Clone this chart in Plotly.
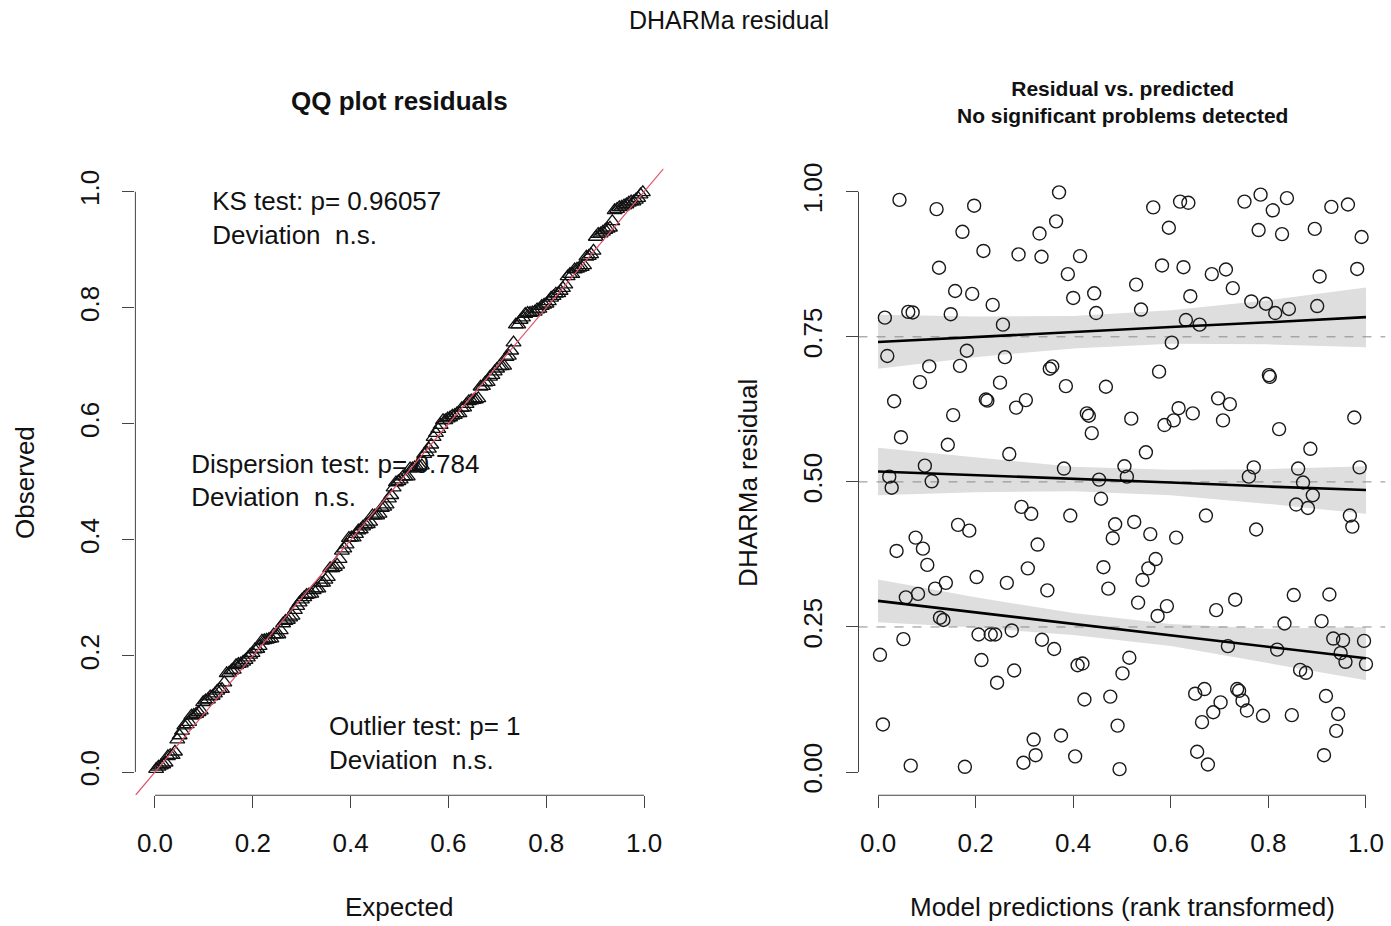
import plotly.graph_objects as go

# Scaled residuals against rank-transformed model predictions
pred_rank = [
    0.044, 0.120, 0.197, 0.173, 0.331, 0.216, 0.288, 0.335, 0.125, 0.158,
    0.193, 0.235, 0.014, 0.062, 0.071, 0.149, 0.256, 0.019, 0.182, 0.260,
    0.105, 0.168, 0.086, 0.250, 0.352, 0.357, 0.371, 0.365, 0.414, 0.389,
    0.564, 0.619, 0.636, 0.596, 0.582, 0.626, 0.529, 0.400, 0.443, 0.640,
    0.447, 0.539, 0.631, 0.659, 0.602, 0.576, 0.385, 0.467, 0.751, 0.784,
    0.809, 0.838, 0.929, 0.963, 0.780, 0.828, 0.895, 0.991, 0.684, 0.713,
    0.727, 0.905, 0.982, 0.765, 0.795, 0.814, 0.842, 0.900, 0.801, 0.803,
    0.033, 0.221, 0.224, 0.283, 0.303, 0.154, 0.047, 0.143, 0.269, 0.096,
    0.023, 0.028, 0.110, 0.294, 0.314, 0.164, 0.187, 0.077, 0.092, 0.038,
    0.327, 0.101, 0.307, 0.202, 0.139, 0.117, 0.264, 0.428, 0.432, 0.438,
    0.519, 0.587, 0.606, 0.616, 0.645, 0.549, 0.381, 0.505, 0.510, 0.453,
    0.457, 0.394, 0.486, 0.525, 0.481, 0.558, 0.611, 0.672, 0.569, 0.554,
    0.542, 0.462, 0.697, 0.721, 0.707, 0.822, 0.976, 0.886, 0.770, 0.760,
    0.861, 0.987, 0.871, 0.891, 0.857, 0.881, 0.967, 0.972, 0.775,
    0.082, 0.057, 0.347, 0.127, 0.134, 0.052, 0.004, 0.206, 0.231, 0.240,
    0.274, 0.336, 0.212, 0.279, 0.244, 0.010, 0.319, 0.323, 0.298, 0.067,
    0.178, 0.472, 0.533, 0.592, 0.573, 0.361, 0.409, 0.419, 0.515, 0.501,
    0.423, 0.476, 0.491, 0.650, 0.669, 0.664, 0.375, 0.404, 0.654, 0.676,
    0.495, 0.693, 0.732, 0.852, 0.925, 0.833, 0.909, 0.717, 0.818, 0.933,
    0.953, 0.996, 0.948, 0.958, 1.000, 0.865, 0.877, 0.736, 0.740, 0.747,
    0.702, 0.687, 0.756, 0.789, 0.848, 0.918, 0.943, 0.939, 0.914,
]
residual = [
    0.986, 0.970, 0.976, 0.931, 0.928, 0.898, 0.892, 0.888, 0.869, 0.829,
    0.824, 0.805, 0.783, 0.793, 0.792, 0.789, 0.771, 0.717, 0.726, 0.715,
    0.699, 0.700, 0.672, 0.671, 0.695, 0.699, 0.999, 0.949, 0.889, 0.858,
    0.973, 0.983, 0.981, 0.938, 0.873, 0.870, 0.840, 0.817, 0.825, 0.820,
    0.791, 0.797, 0.779, 0.771, 0.740, 0.690, 0.665, 0.664, 0.983, 0.995,
    0.968, 0.989, 0.974, 0.978, 0.934, 0.927, 0.936, 0.922, 0.858, 0.866,
    0.834, 0.854, 0.867, 0.811, 0.807, 0.791, 0.798, 0.803, 0.684, 0.681,
    0.639, 0.642, 0.640, 0.628, 0.641, 0.615, 0.577, 0.564, 0.548, 0.528,
    0.509, 0.490, 0.501, 0.457, 0.445, 0.426, 0.416, 0.404, 0.385, 0.381,
    0.392, 0.357, 0.351, 0.336, 0.326, 0.316, 0.326, 0.618, 0.614, 0.584,
    0.609, 0.598, 0.606, 0.627, 0.618, 0.551, 0.523, 0.527, 0.509, 0.504,
    0.471, 0.442, 0.427, 0.431, 0.403, 0.410, 0.404, 0.442, 0.367, 0.351,
    0.331, 0.353, 0.644, 0.634, 0.606, 0.591, 0.611, 0.557, 0.525, 0.509,
    0.523, 0.525, 0.499, 0.477, 0.461, 0.455, 0.442, 0.423, 0.418,
    0.307, 0.301, 0.313, 0.266, 0.262, 0.229, 0.202, 0.237, 0.237, 0.237,
    0.244, 0.228, 0.193, 0.175, 0.154, 0.082, 0.056, 0.029, 0.016, 0.011,
    0.009, 0.316, 0.292, 0.286, 0.269, 0.212, 0.184, 0.187, 0.197, 0.170,
    0.125, 0.130, 0.080, 0.135, 0.143, 0.086, 0.063, 0.027, 0.035, 0.013,
    0.005, 0.279, 0.297, 0.305, 0.306, 0.256, 0.260, 0.217, 0.211, 0.230,
    0.227, 0.226, 0.205, 0.190, 0.186, 0.176, 0.171, 0.143, 0.140, 0.123,
    0.120, 0.103, 0.106, 0.097, 0.098, 0.131, 0.100, 0.071, 0.029,
]

# Quantile regression fits (0.25, 0.5, 0.75) with confidence bands
band_x = [0.0, 0.2, 0.4, 0.6, 0.8, 1.0]
q25_fit = [0.295, 0.275, 0.255, 0.236, 0.216, 0.196]
q25_lo = [0.258, 0.249, 0.236, 0.217, 0.187, 0.158]
q25_hi = [0.332, 0.301, 0.274, 0.255, 0.247, 0.250]
q50_fit = [0.518, 0.512, 0.505, 0.499, 0.492, 0.486]
q50_lo = [0.477, 0.482, 0.484, 0.477, 0.462, 0.445]
q50_hi = [0.559, 0.542, 0.526, 0.521, 0.522, 0.527]
q75_fit = [0.741, 0.750, 0.758, 0.767, 0.775, 0.784]
q75_lo = [0.695, 0.715, 0.730, 0.738, 0.737, 0.732]
q75_hi = [0.788, 0.785, 0.786, 0.796, 0.813, 0.835]
quantiles = [0.25, 0.5, 0.75]

qq_ticks = [0.0, 0.2, 0.4, 0.6, 0.8, 1.0]
res_ticks = [0.0, 0.25, 0.5, 0.75, 1.0]
axis_range = [-0.04, 1.04]

# QQ plot: sorted residuals against uniform plotting positions
n = len(residual)
observed = sorted(residual)
expected = [(i + 0.5) / n for i in range(n)]

FONT = "Liberation Sans, Arial, Helvetica, sans-serif"
W, H = 1391, 926

fig = go.Figure()

# test summaries (drawn first so the points sit on top)
fig.add_trace(go.Scatter(
    x=[0.117, 0.074, 0.356], y=[0.951, 0.498, 0.046],
    mode="text",
    text=["KS test: p= 0.96057<br>Deviation\u00a0 n.s.",
          "Dispersion test: p= 0.784<br>Deviation\u00a0 n.s.",
          "Outlier test: p= 1<br>Deviation\u00a0 n.s."],
    textposition="middle right",
    textfont=dict(family=FONT, size=26, color="#111"),
    xaxis="x", yaxis="y", hoverinfo="skip", showlegend=False,
))

fig.add_trace(go.Scatter(
    x=expected, y=observed, mode="markers",
    marker=dict(symbol="triangle-up-open", size=13, color="#111",
                line=dict(width=1.3, color="#111")),
    xaxis="x", yaxis="y", showlegend=False,
))
fig.add_trace(go.Scatter(
    x=axis_range, y=axis_range, mode="lines",
    line=dict(color="#DF536B", width=1.2),
    xaxis="x", yaxis="y", showlegend=False,
))

# residual vs predicted panel
for lo, hi in [(q25_lo, q25_hi), (q50_lo, q50_hi), (q75_lo, q75_hi)]:
    fig.add_trace(go.Scatter(
        x=band_x + band_x[::-1], y=hi + lo[::-1],
        mode="lines", fill="toself", fillcolor="#dedede",
        line=dict(width=0), xaxis="x2", yaxis="y2",
        hoverinfo="skip", showlegend=False,
    ))
for q in quantiles:
    fig.add_trace(go.Scatter(
        x=axis_range, y=[q, q], mode="lines",
        line=dict(color="#8a8a8a", width=1, dash="dash"),
        xaxis="x2", yaxis="y2", hoverinfo="skip", showlegend=False,
    ))
fig.add_trace(go.Scatter(
    x=pred_rank, y=residual, mode="markers",
    marker=dict(symbol="circle-open", size=13, color="#1a1a1a",
                line=dict(width=1.4, color="#1a1a1a")),
    xaxis="x2", yaxis="y2", showlegend=False,
))
for fit in [q25_fit, q50_fit, q75_fit]:
    fig.add_trace(go.Scatter(
        x=band_x, y=fit, mode="lines",
        line=dict(color="#000", width=2.6),
        xaxis="x2", yaxis="y2", hoverinfo="skip", showlegend=False,
    ))

xdom1 = [135.4 / W, 663.6 / W]
xdom2 = [858.5 / W, 1385.5 / W]
ydom = [(H - 794.4) / H, (H - 163.6) / H]

axis_common = dict(
    range=axis_range, showgrid=False, zeroline=False, showline=False,
    ticks="outside", ticklen=12, tickwidth=1, tickcolor="#444",
    tickfont=dict(family=FONT, size=26, color="#111"),
)

fig.update_layout(
    width=W, height=H,
    margin=dict(l=0, r=0, t=0, b=0),
    paper_bgcolor="white", plot_bgcolor="white",
    font=dict(family=FONT, color="#111"),
    xaxis=dict(domain=xdom1, anchor="y", tickvals=qq_ticks,
               tickformat=".1f", ticklabelstandoff=13, **axis_common),
    yaxis=dict(domain=ydom, anchor="x", tickvals=qq_ticks,
               tickformat=".1f", tickangle=-90, ticklabelstandoff=13,
               **axis_common),
    xaxis2=dict(domain=xdom2, anchor="y2", tickvals=qq_ticks,
                tickformat=".1f", ticklabelstandoff=13, **axis_common),
    yaxis2=dict(domain=ydom, anchor="x2", tickvals=res_ticks,
                tickformat=".2f", tickangle=-90, ticklabelstandoff=13,
                **axis_common),
)

# axis lines spanning the tick range only
for xa, ya in [("x", "y"), ("x2", "y2")]:
    fig.add_shape(type="line", xref=f"{xa} domain", yref=ya,
                  x0=0, x1=0, y0=0, y1=1, line=dict(color="#444", width=1))
    fig.add_shape(type="line", xref=xa, yref=f"{ya} domain",
                  x0=0, x1=1, y0=0, y1=0, line=dict(color="#444", width=1))

def px_x(v):
    return v / W

def px_y(v):
    return 1 - v / H

annotations = [
    dict(text="DHARMa residual", x=px_x(729), y=px_y(14),
         font=dict(size=25)),
    dict(text="<b>QQ plot residuals</b>", x=px_x(399), y=px_y(96),
         font=dict(size=26)),
    dict(text="<b>Residual vs. predicted<br>No significant problems detected</b>",
         x=px_x(1122), y=px_y(96.5), font=dict(size=21)),
    dict(text="Expected", x=px_x(399), y=px_y(907), font=dict(size=26)),
    dict(text="Model predictions (rank transformed)", x=px_x(1122),
         y=px_y(907), font=dict(size=26)),
    dict(text="Observed", x=px_x(25), y=px_y(480), textangle=-90,
         font=dict(size=26)),
    dict(text="DHARMa residual", x=px_x(748), y=px_y(480), textangle=-90,
         font=dict(size=26)),
]
for a in annotations:
    a.update(xref="paper", yref="paper", showarrow=False,
             xanchor="center", yanchor="middle")
    a["font"].update(family=FONT, color="#111")
fig.update_layout(annotations=annotations)

fig.write_html("out.html")
